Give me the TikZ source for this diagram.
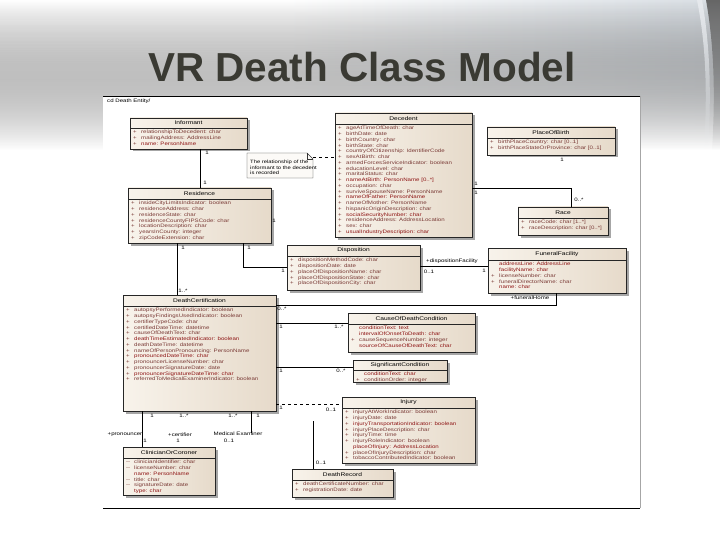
\documentclass[tikz,border=0pt]{standalone}
\usepackage{fontspec}
\setmainfont{Liberation Sans}
\newfontfamily\attrff[FakeStretch=1.25]{Liberation Sans}
\usetikzlibrary{shadows,fadings,calc}
\definecolor{titlec}{HTML}{3A3A33}
\definecolor{attrc}{HTML}{7A3A36}
\definecolor{attrb}{HTML}{8E1414}
\definecolor{boxA}{HTML}{F8F3EB}
\definecolor{boxB}{HTML}{E6DACA}
\definecolor{slate}{HTML}{8193A5}
\pgfdeclarehorizontalshading{slideshade}{100bp}{color(0bp)=(white); color(45bp)=(white); color(75bp)=(white!70!slate); color(92bp)=(slate); color(100bp)=(slate!80!black)}
\tikzfading[name=fadedown, top color=transparent!0, bottom color=transparent!100]
\newcommand\attrfont{\attrff\fontsize{4.9}{5.75}\selectfont}
\newcommand\urow[2]{#1 & #2\\}
\newcommand\hrow[2]{#1 & \color{attrb}#2\\}
\newcommand\umlcls[8]{%
  \node[classbox, minimum width={(#4-#2)*1pt}, minimum height={(#5-#3)*1pt}] (#1) at (#2,#3) {};
  \draw[sepline] ($(#1.north west)+(0,#6)$) -- ($(#1.north east)+(0,#6)$);
  \node[classtitle] (#1-t) at ($(#1.north)+(0,#6/2)$) {#7};
  \node[attrs] (#1-a) at ($(#1.north west)+(3,#6+1.6)$) {\begin{tabular}{@{}p{8pt}@{}l@{}}#8\end{tabular}};
}
\begin{document}
\begin{tikzpicture}[x=1pt,y=-1pt,
  classbox/.style={draw=black!85, line width=0.5pt, left color=boxA, right color=boxB,
    anchor=north west, inner sep=0pt, outer sep=0pt,
    drop shadow={shadow xshift=2.5pt, shadow yshift=-2.5pt, fill=black!35, opacity=1}},
  sepline/.style={draw=black!85, line width=0.4pt},
  classtitle/.style={font=\attrff\fontsize{5.3}{6}\selectfont, text=black, inner sep=0pt},
  attrs/.style={anchor=north west, inner sep=0pt, font=\attrfont, text=attrc},
  conn/.style={draw=black, line width=0.6pt},
  mult/.style={font=\attrff\fontsize{4.9}{6}\selectfont, inner sep=0.5pt, text=black},
  role/.style={font=\attrff\fontsize{4.9}{6}\selectfont, inner sep=0.5pt, text=black}]
\useasboundingbox (0,0) rectangle (720,540);
% slide background
\fill[shading=slideshade, path fading=fadedown] (0,0) rectangle (720,150);
\fill[black!60, path fading=fadedown] (706,0) .. controls (713,40) and (716,85) .. (712,150) -- (720,150) -- (720,0) -- cycle;
\fill[white!80!slate, path fading=fadedown] (697,0) .. controls (705,40) and (708,85) .. (704,150) -- (708,150) .. controls (712,85) and (709,40) .. (702,0) -- cycle;
% title
\node[font=\fontsize{40.5}{44}\selectfont\bfseries, text=titlec, inner sep=0pt] (title) at (362,67) {VR Death Class Model};
% diagram sheet
\fill[white] (103,96) rectangle (640,508);
\draw[line width=0.8pt] (103,96) -- (640,96);
\draw[line width=0.8pt] (103,508) -- (640,508);
\draw[black!35, line width=0.5pt] (640,96) -- (640,508);
\node[anchor=north west, font=\attrff\fontsize{4.9}{6}\selectfont, inner sep=0pt] (pkg) at (107,99) {cd Death Entity/};

% classes
\umlcls{inf}{130}{118}{247}{149}{10}{Informant}{%
\urow{+}{relationshipToDecedent: char}
\urow{+}{mailingAddress: AddressLine}
\hrow{+}{name: PersonName}}

\umlcls{dec}{335}{113}{472}{237}{11}{Decedent}{%
\urow{+}{ageAtTimeOfDeath: char}
\urow{+}{birthDate: date}
\urow{+}{birthCountry: char}
\urow{+}{birthState: char}
\urow{+}{countryOfCitizenship: IdentifierCode}
\urow{+}{sexAtBirth: char}
\urow{+}{armedForcesServiceIndicator: boolean}
\urow{+}{educationLevel: char}
\urow{+}{maritalStatus: char}
\hrow{+}{nameAtBirth: PersonName [0..*]}
\urow{+}{occupation: char}
\urow{+}{surviveSpouseName: PersonName}
\hrow{+}{nameOfFather: PersonName}
\urow{+}{nameOfMother: PersonName}
\urow{+}{hispanicOriginDescription: char}
\hrow{+}{socialSecurityNumber: char}
\urow{+}{residenceAddress: AddressLocation}
\urow{+}{sex: char}
\hrow{+}{usualIndustryDescription: char}}

\umlcls{pob}{487}{127}{615}{155}{11}{PlaceOfBirth}{%
\urow{+}{birthPlaceCountry: char [0..1]}
\urow{+}{birthPlaceStateOrProvince: char [0..1]}}

\umlcls{race}{518}{207}{608}{235}{11}{Race}{%
\urow{+}{raceCode: char [1..*]}
\urow{+}{raceDescription: char [0..*]}}

\umlcls{res}{128}{188}{271}{243}{11}{Residence}{%
\urow{+}{insideCityLimitsIndicator: boolean}
\urow{+}{residenceAddress: char}
\urow{+}{residenceState: char}
\urow{+}{residenceCountyFIPSCode: char}
\urow{+}{locationDescription: char}
\urow{+}{yearsInCounty: integer}
\urow{+}{zipCodeExtension: char}}

\umlcls{disp}{287}{245}{420}{290}{11}{Disposition}{%
\urow{+}{dispositionMethodCode: char}
\urow{+}{dispositionDate: date}
\urow{+}{placeOfDispositionName: char}
\urow{+}{placeOfDispositionState: char}
\urow{+}{placeOfDispositionCity: char}}

\umlcls{fac}{488}{248}{626}{293}{12}{FuneralFacility}{%
\hrow{}{addressLine: AddressLine}
\hrow{}{facilityName: char}
\urow{+}{licenseNumber: char}
\urow{+}{funeralDirectorName: char}
\hrow{}{name: char}}

\umlcls{dc}{123}{295}{276}{411}{11}{DeathCertification}{%
\urow{+}{autopsyPerformedIndicator: boolean}
\urow{+}{autopsyFindingsUsedIndicator: boolean}
\urow{+}{certifierTypeCode: char}
\urow{+}{certifiedDateTime: datetime}
\urow{+}{causeOfDeathText: char}
\hrow{+}{deathTimeEstimatedIndicator: boolean}
\urow{+}{deathDateTime: datetime}
\urow{+}{nameOfPersonPronouncing: PersonName}
\hrow{+}{pronouncedDateTime: char}
\urow{+}{pronouncerLicenseNumber: char}
\urow{+}{pronouncerSignatureDate: date}
\hrow{+}{pronouncerSignatureDateTime: char}
\urow{+}{referredToMedicalExaminerIndicator: boolean}}

\umlcls{cod}{348}{313}{475}{352}{11}{CauseOfDeathCondition}{%
\hrow{}{conditionText: text}
\hrow{}{intervalOfOnsetToDeath: char}
\urow{+}{causeSequenceNumber: integer}
\hrow{}{sourceOfCauseOfDeathText: char}}

\umlcls{sig}{353}{360}{447}{382}{10}{SignificantCondition}{%
\hrow{}{conditionText: char}
\urow{+}{conditionOrder: integer}}

\umlcls{inj}{342}{397}{475}{463}{11}{Injury}{%
\urow{+}{injuryAtWorkIndicator: boolean}
\urow{+}{injuryDate: date}
\hrow{+}{injuryTransportationIndicator: boolean}
\urow{+}{injuryPlaceDescription: char}
\urow{+}{injuryTime: time}
\urow{+}{injuryRoleIndicator: boolean}
\hrow{}{placeOfInjury: AddressLocation}
\urow{+}{placeOfInjuryDescription: char}
\urow{+}{tobaccoContributedIndicator: boolean}}

\umlcls{dr}{292}{469}{393}{497}{11}{DeathRecord}{%
\urow{+}{deathCertificateNumber: char}
\urow{+}{registrationDate: date}}

\umlcls{coc}{123}{447}{215}{495}{11}{ClinicianOrCoroner}{%
\urow{--}{clinicianIdentifier: char}
\urow{--}{licenseNumber: char}
\hrow{}{name: PersonName}
\urow{--}{title: char}
\urow{--}{signatureDate: date}
\hrow{}{type: char}}

% note
\node[anchor=north west, minimum width=66pt, minimum height=25pt, inner sep=0pt, outer sep=0pt] (note) at (247,153) {};
\draw[fill=white!60!boxA, draw=black!80, line width=0.4pt] (note.north west) -- ($(note.north east)+(-6,0)$) -- ($(note.north east)+(0,6)$) -- (note.south east) -- (note.south west) -- cycle;
\draw[draw=black!80, line width=0.4pt] ($(note.north east)+(-6,0)$) -- ($(note.north east)+(-6,6)$) -- ($(note.north east)+(0,6)$);
\node[anchor=north west, align=left, font=\attrff\fontsize{4.7}{5.6}\selectfont, inner sep=0pt] (note-t) at ($(note.north west)+(3,7)$) {The relationship of the\\ informant to the decedent\\ is recorded};

% connectors
\draw[conn] (inf.south -| 200,0) -- (res.north -| 200,0);
\draw[conn, dashed, line width=0.4pt] (note.east |- 0,157) -- (dec.west |- 0,157);
\draw[conn] (dec.east |- 0,188) -| (race.north -| 571,0);
\draw[conn] (res.south -| 177,0) -- (dc.north -| 177,0);
\draw[conn] (res.south -| 243,0) |- (disp.west |- 0,267);
\draw[conn] (disp.east |- 0,266) -- (fac.west |- 0,266);
\draw[conn] (dc.east |- 0,305) -| (fac.south -| 556,0);
\draw[conn] (dc.east |- 0,323) -- (cod.west |- 0,323);
\draw[conn] (dc.east |- 0,367) -- (sig.west |- 0,367);
\draw[conn, dashed] (dc.east |- 0,404) -- (inj.west |- 0,404);
\coordinate (drtop) at (313,421);
\draw[conn] (drtop) -- (dr.north -| 313,0);
\draw[conn] (dc.south -| 142,0) -- (coc.north -| 142,0);
\coordinate (mefree) at (251,433);
\draw[conn] (dc.south -| 251,0) -- (mefree);

% multiplicities and roles
\node[mult] (m1) at (207,153) {1};
\node[mult] (m2) at (205,183) {1};
\node[mult] (m3) at (274,221) {1};
\node[mult] (m4) at (183,248) {1};
\node[mult] (m5) at (183,291) {1..*};
\node[mult] (m6) at (249,248) {1};
\node[mult] (m7) at (283,271) {1};
\node[mult] (m8) at (476,184) {1};
\node[mult] (m9) at (476,193) {1};
\node[mult] (m10) at (579,200) {0..*};
\node[mult] (m11) at (562,160) {1};
\node[role, fill=white] (r1) at (452,261) {+dispositionFacility};
\node[mult] (m12) at (429,272) {0..1};
\node[mult] (m13) at (484,271) {1};
\node[role] (r2) at (530,298) {+funeralHome};
\node[mult] (m14) at (282,309) {0..*};
\node[mult] (m15) at (281,327) {1};
\node[mult] (m16) at (339,327) {1..*};
\node[mult] (m17) at (281,371) {1};
\node[mult] (m18) at (341,371) {0..*};
\node[mult] (m19) at (281,408) {1};
\node[mult] (m20) at (331,410) {0..1};
\node[mult] (m21) at (321,463) {0..1};
\node[mult] (m22) at (152,416) {1};
\node[mult] (m23) at (184,416) {1..*};
\node[mult] (m24) at (233,416) {1..*};
\node[mult] (m25) at (258,416) {1};
\node[role] (r3) at (125,435) {+pronouncer};
\node[mult] (m26) at (145,441) {1};
\node[role] (r4) at (180,435) {+certifier};
\node[mult] (m27) at (178,441) {1};
\node[role] (r5) at (238,434) {Medical Examiner};
\node[mult] (m28) at (229,441) {0..1};
\end{tikzpicture}
\end{document}
